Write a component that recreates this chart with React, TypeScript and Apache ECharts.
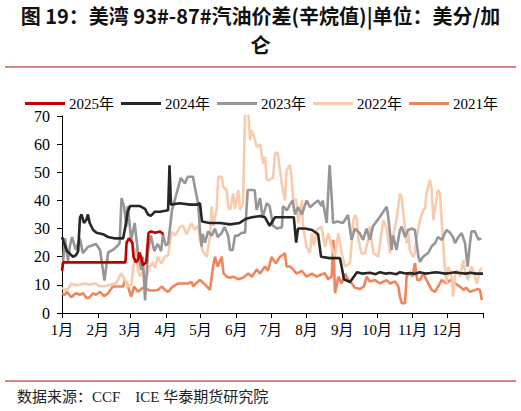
import React, { useEffect, useRef } from "react";
import * as echarts from "echarts";

const monthStarts = [0, 31, 59, 90, 120, 151, 181, 212, 243, 273, 304, 334];
const monthLabels = ["1月", "2月", "3月", "4月", "5月", "6月", "7月", "8月", "9月", "10月", "11月", "12月"];
const yearEnd = 365;
const yTicks = { min: 0, max: 70, interval: 10 };

const seriesNames = ["2025年", "2024年", "2023年", "2022年", "2021年"];
const seriesColors = ["#C00000", "#262626", "#969696", "#F8CBAD", "#F0845C"];

// [day of year, value]
const s2025: [number, number][] = [
  [0, 15], [1, 18], [16, 18], [33, 18], [50, 18], [55, 18], [56, 25], [58, 26.5], [61, 25], [62, 20],
  [64, 18], [66, 19], [67, 21.5], [68.5, 20], [70, 17], [73, 18], [75, 28.5], [77, 29], [81, 28.5],
  [85, 29], [88, 28],
];

const s2024: [number, number][] = [
  [0, 27], [1.7, 25], [4.3, 22], [7, 21], [9.5, 20], [12, 20.5], [14, 22], [15.6, 34], [17, 35], [19, 32],
  [21, 33], [22.5, 35], [24, 32], [27, 29.5], [30, 28.5], [35.5, 28], [40, 27], [46, 26.5], [53, 26.5],
  [55.5, 32], [57, 36], [59, 38], [67.6, 38], [72, 37], [74.5, 35], [77, 34.5], [80.6, 36], [85, 36],
  [92, 36.5], [93.2, 52.5], [94.5, 38.5], [102, 39], [111, 38.5], [117, 38.5], [119.6, 39], [121.4, 32.5],
  [128, 32], [137, 32], [145.7, 31.5], [154, 32], [159.5, 33.5], [164.7, 34], [171.7, 34.5], [176, 34],
  [180, 31], [184.7, 34], [193, 34], [201, 34], [203, 25], [204.6, 30], [210.7, 30], [216.8, 29.5],
  [222, 28], [224.6, 20], [232, 19.5], [241, 19.5], [244.5, 12], [249.7, 11], [255.8, 14.5], [260, 14],
  [267, 14.3], [272, 13.8], [275.7, 14.5], [280, 14], [284.4, 14.2], [290, 13.8], [293, 14.5], [298, 14],
  [301.7, 14.2], [306, 13.9], [310, 14.5], [315, 14], [319, 14.2], [324, 14.5], [327.7, 14.3], [332, 14],
  [336.4, 14.2], [341, 14.5], [345, 14.2], [350, 14], [353.7, 14.3], [359, 14], [365, 14],
];

const s2023: [number, number][] = [
  [0, 15], [0.9, 17.8], [2.6, 26.6], [5.2, 18.5], [6.9, 24], [8.7, 27], [12, 22.4], [15.6, 26.5], [18, 21.3],
  [22.5, 23.5], [26, 24], [29.5, 24.5], [33, 22.4], [36.8, 11.5], [40, 21.5], [44, 22.4], [48.5, 24],
  [50, 25], [51.6, 40.8], [54, 37.5], [55.7, 30.7], [57, 38], [60, 26], [63, 32], [66, 21], [68.7, 15.3],
  [70, 20], [72, 4.5], [74.6, 22], [77, 27.5], [80, 22], [83, 24.6], [86, 22], [87.5, 28], [90, 24],
  [92, 24.7], [95.4, 36.6], [99.4, 42.6], [103, 48], [106.6, 46], [109, 48.4], [113.6, 48.4], [115, 45],
  [118, 39], [119.6, 29.5], [121, 23.6], [122, 28], [124, 25], [126.6, 29], [129.8, 27.5], [132.6, 30],
  [135, 27], [138.5, 28.5], [141, 30.6], [144, 27.5], [145.7, 22.4], [148, 22.4], [150, 27.5],
  [152.6, 27.5], [155.8, 28.5], [158.7, 28.5], [161, 43.7], [167, 43.7], [168.8, 36.6], [171.7, 40.8],
  [174, 34], [177.5, 39], [180, 38], [183, 31], [186.4, 30], [190.7, 30.5], [191.6, 38], [195, 36.5],
  [197.7, 38.6], [200, 40], [202, 35], [204.6, 37.6], [208, 35], [212, 40], [215, 37.6], [219, 39],
  [222, 40], [225, 38], [226, 40], [229.5, 32], [232, 52.6], [234, 40], [235, 32], [238.4, 32.5],
  [243.6, 32], [248, 34.8], [251, 26], [254, 30], [258, 28.4], [261, 26], [264, 30], [267, 26],
  [269.6, 30.8], [275.7, 34.2], [281.5, 37.8], [282.6, 35], [284.4, 28.3], [285.8, 22.4], [287, 27.6],
  [290, 22.4], [293, 29.5], [294.5, 30.7], [297.4, 27], [300, 29.5], [303.5, 30], [306, 29.5],
  [307.5, 24.8], [309, 20], [310.4, 18.2], [313, 20], [317.6, 21.4], [320.5, 23.7], [323.4, 24.8],
  [326, 27], [329.5, 26], [332, 28.4], [333.5, 29.5], [336.4, 28.5], [339, 27], [340.7, 24.8],
  [343.6, 27], [346.5, 28.4], [349.4, 24.8], [351.7, 16.5], [353.7, 24.8], [355, 29], [358, 29],
  [361, 26], [362.4, 26.5], [363.3, 26],
];

const s2022: [number, number][] = [
  [0, 9], [2.3, 8.2], [5.2, 8.5], [8, 10.5], [11.3, 10], [15.6, 10], [20, 10.5], [24, 10], [28.6, 10.5],
  [33, 9.5], [37.3, 9.5], [41.6, 10], [46.8, 10.5], [51.4, 14.1], [54.4, 11.8], [57, 9.5], [60, 10],
  [62.4, 18], [64, 23], [66, 15], [67.6, 13], [70, 15], [73, 12.5], [76, 16.5], [79, 18], [80.6, 16],
  [83, 20], [86, 17.5], [89, 20], [92, 20.5], [95, 28.9], [98, 27.5], [102.3, 30.5], [105, 31],
  [108, 28], [110, 30], [112.4, 31.9], [115, 29.5], [118, 31], [119.6, 26], [122, 22], [125.5, 20],
  [128.3, 27.5], [129.8, 37.8], [131, 31], [134, 36.6], [135.5, 48.4], [138.5, 48.4], [139.6, 45],
  [142.8, 43.7], [144, 38], [145.7, 36.6], [148.5, 42.5], [150, 37], [152.9, 43.7], [154.3, 36.6],
  [157, 39], [158.7, 71], [161.5, 71], [163, 61.5], [164.5, 65], [167.3, 61.5], [168.8, 59], [171.7, 60],
  [174.5, 53], [176, 55.5], [177.5, 47.3], [180, 47.3], [183, 48], [184.7, 56.7], [187, 57],
  [190.5, 46], [193.3, 40], [194.7, 50.8], [197.7, 52.6], [199, 48], [200.5, 40], [203, 40.5],
  [205, 31.9], [208, 40], [209, 30.7], [212, 23.6], [215, 21.3], [216.5, 28.3], [218.5, 24],
  [220.8, 29.5], [225, 30.7], [228, 23.6], [231, 28.3], [233.8, 23.6], [236.7, 20], [239.6, 28.3],
  [242.5, 21.3], [245.4, 16.5], [249.7, 17.7], [252.6, 33], [254, 34.8], [255.5, 33.5], [257, 26],
  [259.8, 21.2], [262.7, 21.2], [265.5, 26], [267, 30.8], [270, 21.2], [274.2, 20], [277, 28.3],
  [278.6, 33], [281.5, 30], [284.4, 21.2], [287.2, 27.6], [290, 33], [293, 42.5], [294.5, 41],
  [296, 35.4], [298.8, 24.8], [300, 29], [301.7, 22], [304.6, 20], [306, 21.5], [307.5, 27], [310.4, 33],
  [313.3, 36.6], [314.7, 37], [316, 42.5], [319, 47.3], [320.5, 43.7], [322, 33], [323.4, 37],
  [326, 43.7], [327.7, 42.5], [329, 34], [330.5, 24.8], [332, 15.3], [333.5, 10.5], [334.7, 16.5],
  [337.8, 13], [339, 5.8], [340.7, 13], [342, 15.3], [345, 13], [348, 18.8], [349.4, 15], [352, 11.7],
  [355, 16.5], [357, 14.5], [359.6, 10.5], [362.4, 15.3], [364, 16],
];

const s2021: [number, number][] = [
  [0, 7], [2.3, 6.4], [4.3, 7.5], [8, 5.6], [10.4, 6.5], [12.4, 7], [15.6, 6.5], [18.2, 7], [21.7, 5.2],
  [24, 5.6], [27, 7], [29.5, 6.5], [33, 7.5], [36.4, 6], [40, 7], [44, 9.4], [48.5, 9.4], [53, 9.4],
  [54.4, 11.7], [56.4, 10.5], [59, 7], [60, 5.8], [62.4, 9.4], [66, 7.5], [70, 9], [73.7, 8.5], [76, 8],
  [79.8, 8], [83, 8.2], [86.7, 9.4], [89.3, 8.2], [92, 7.5], [96, 9.4], [100.8, 10.5], [105, 10.5],
  [109, 10.5], [112.4, 11], [113.8, 9.4], [116, 10.5], [119.6, 11.7], [123, 10.5], [126.6, 9],
  [128.3, 8.2], [131, 16.5], [132.6, 20], [135, 16.5], [138.5, 20], [140, 14.1], [142.8, 12.9],
  [145.7, 12.5], [148.5, 12.9], [152.6, 12], [157, 12.5], [161.5, 14], [164.7, 12.9], [168.8, 15.5],
  [171.7, 14], [176, 16.5], [178.6, 15], [181.8, 20], [183, 19], [185.5, 17.7], [189, 20], [193.3, 21.2],
  [194.7, 16.5], [197.7, 16.5], [200.3, 15.5], [203.5, 14], [207.8, 15], [212, 12.9], [216.5, 14],
  [220.8, 12.9], [223.7, 13.5], [228, 14.1], [230.6, 12], [233.8, 12.9], [235.2, 26], [236.7, 7],
  [239.6, 12.9], [242.5, 10.5], [245.4, 14], [248.2, 11.7], [251.2, 10.5], [254, 9], [258.4, 8.5],
  [261.8, 9.5], [264.2, 12.9], [267, 11.2], [271.4, 11.7], [275.7, 10.5], [281.5, 11.7], [284.4, 10.5],
  [288.7, 11.2], [291.6, 9.4], [293, 5.8], [294.5, 3.5], [297.4, 3.5], [298.8, 13], [301.7, 14.1],
  [304, 13], [306, 17.7], [308, 11.7], [310.4, 11.7], [313.3, 14.1], [315.6, 12], [317.6, 10.5],
  [319, 9.4], [320.5, 8.2], [323.4, 7.5], [327.7, 10.5], [329, 11.7], [333.5, 10.5], [336.4, 11.7],
  [340.7, 10.5], [345, 9.4], [348, 8.2], [350.3, 9], [353.7, 7.5], [358, 8.2], [361, 8.5], [362.4, 8.2],
  [364, 4.6],
];

const seriesData = [s2025, s2024, s2023, s2022, s2021];

const titleText = "图 19：美湾 93#-87#汽油价差(辛烷值)|单位：美分/加\n仑";
const sourceText = "数据来源：CCF    ICE 华泰期货研究院";

const serif = "'Liberation Serif', 'Times New Roman', 'Noto Sans CJK SC', serif";

export default function App() {
  const ref = useRef<HTMLDivElement>(null);
  useEffect(() => {
    document.body.style.margin = "0";
    const chart = echarts.init(ref.current!, null, { renderer: "svg" });
    const series = seriesNames
      .map((name, i) => ({
        name,
        type: "line",
        data: seriesData[i],
        color: seriesColors[i],
        showSymbol: false,
        symbol: "none",
        lineStyle: { width: 2.6, color: seriesColors[i] },
        z: 10 - i,
      }))
      .reverse();
    chart.setOption({
      animation: false,
      backgroundColor: "#fff",
      legend: {
        data: seriesNames,
        left: 20,
        top: 91,
        icon: "rect",
        itemWidth: 40,
        itemHeight: 3,
        itemGap: 7,
        textStyle: { fontSize: 15, fontFamily: serif, color: "#000", padding: [0, 0, 0, -1] },
      },
      grid: { left: 62, right: 38, top: 116, bottom: 98 },
      xAxis: {
        type: "value",
        min: 0,
        max: yearEnd,
        axisLine: { show: true, lineStyle: { color: "#000", width: 1 } },
        axisTick: {
          show: true,
          length: 5,
          customValues: [...monthStarts, yearEnd],
          lineStyle: { color: "#000" },
        },
        axisLabel: {
          customValues: monthStarts,
          formatter: (v: number) => monthLabels[monthStarts.indexOf(v)] ?? "",
          color: "#000",
          fontSize: 15,
          fontFamily: serif,
          margin: 9,
        },
        splitLine: { show: false },
      },
      yAxis: {
        type: "value",
        min: yTicks.min,
        max: yTicks.max,
        interval: yTicks.interval,
        axisLine: { show: true, lineStyle: { color: "#000", width: 1 } },
        axisTick: { show: true, length: 5, lineStyle: { color: "#000" } },
        axisLabel: { color: "#000", fontSize: 16, fontFamily: serif, margin: 12 },
        splitLine: { show: false },
      },
      graphic: [
        {
          type: "text",
          x: 260.5,
          y: 30,
          style: {
            text: titleText,
            fontSize: 20,
            lineHeight: 29,
            fontWeight: "bold",
            fontFamily: "'Noto Sans CJK SC', sans-serif",
            fill: "#111",
            align: "center",
            verticalAlign: "middle",
          },
        },
        {
          type: "line",
          shape: { x1: 5, y1: 67, x2: 516, y2: 67 },
          style: { stroke: "#C65E5E", lineWidth: 1.5 },
        },
        {
          type: "line",
          shape: { x1: 5, y1: 381, x2: 516, y2: 381 },
          style: { stroke: "#C65E5E", lineWidth: 1.5 },
        },
        {
          type: "text",
          x: 17,
          y: 397,
          style: {
            text: sourceText,
            fontSize: 15,
            fontFamily: serif,
            fill: "#222",
            align: "left",
            verticalAlign: "middle",
          },
        },
      ],
      series,
    });
    return () => chart.dispose();
  }, []);
  return <div ref={ref} style={{ width: 521, height: 411 }} />;
}
